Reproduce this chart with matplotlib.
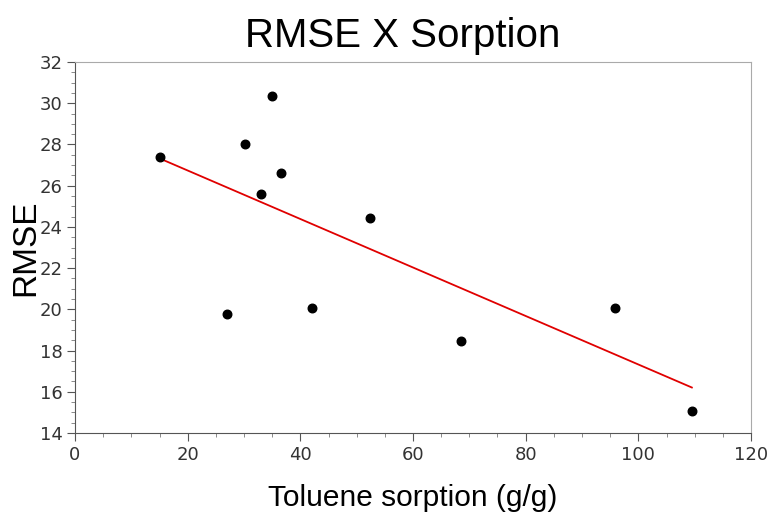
import numpy as np
import matplotlib
matplotlib.use("Agg")
import matplotlib.pyplot as plt
from matplotlib.ticker import MultipleLocator

# dados
sorption = [15.1, 30.2, 34.9, 36.5, 33.1, 52.4, 27.0, 42.1, 68.5, 95.9, 109.5]
rmse = [27.39, 28.02, 30.37, 26.63, 25.6, 24.41, 19.76, 20.08, 18.45, 20.08, 15.05]

# reta de regressao linear
a, b = np.polyfit(sorption, rmse, 1)
xl = np.array([min(sorption), max(sorption)])
yl = a*xl + b

fig = plt.figure(figsize=(7.69, 5.15), dpi=100)
ax = fig.add_axes([75/769, 1-433/515, 676/769, 371/515])

ax.plot(xl, yl, color='#e00000', lw=1.3, zorder=2)
ax.scatter(sorption, rmse, s=38, color='black', zorder=3)

ax.set_xlim(0, 120)
ax.set_ylim(14, 32)
ax.xaxis.set_major_locator(MultipleLocator(20))
ax.xaxis.set_minor_locator(MultipleLocator(5))
ax.yaxis.set_major_locator(MultipleLocator(2))
ax.yaxis.set_minor_locator(MultipleLocator(0.5))

ax.tick_params(which='major', length=6, color='#555555', labelsize=13, labelcolor='#333333', pad=3)
ax.tick_params(which='minor', length=3, color='#777777')
for s in ['left', 'bottom']:
	ax.spines[s].set_color('#555555')
for s in ['top', 'right']:
	ax.spines[s].set_color('#aaaaaa')

ax.set_title('RMSE X Sorption', fontsize=29, family='Liberation Sans', pad=11, x=0.485)
ax.set_xlabel('Toluene sorption (g/g)', fontsize=21.5, family='Liberation Sans', labelpad=15)
ax.set_ylabel('RMSE', fontsize=24, family='Liberation Sans', labelpad=-1)

fig.savefig('out.png', dpi=100)
